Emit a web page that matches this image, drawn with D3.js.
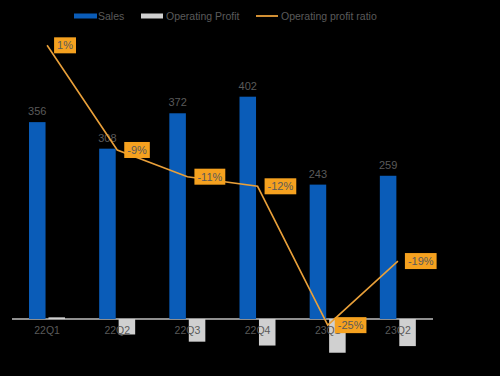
<!DOCTYPE html>
<html>
<head>
<meta charset="utf-8">
<script src="https://cdn.jsdelivr.net/npm/d3@7"></script>
<style>
  html, body { margin: 0; padding: 0; background: #000; }
  svg { display: block; background: #000; }
  text { font-family: "Liberation Sans", Arial, sans-serif; }
</style>
</head>
<body>
<svg id="chart" width="500" height="376"></svg>
<script>
// ---- data ----
const categories = ["22Q1", "22Q2", "22Q3", "22Q4", "23Q1", "23Q2"];
const sales = [356, 308, 372, 402, 243, 259];
const operatingProfit = [3, -28, -41, -48, -61, -49];
const profitRatio = [1.0, -8.8, -11.3, -12.2, -25.2, -19.2];
const seriesNames = ["Sales", "Operating Profit", "Operating profit ratio"];

// ---- styles ----
const BLUE = "#0a5cb8";
const GREY = "#d0d0d0";
const ORANGE = "#f5a11f";
const LINE = "#e9a03a";
const TEXT = "#5a5a5a";

const svg = d3.select("#chart");

const x0 = d3.scaleBand().domain(categories).range([12, 433]).padding(0);
const x1 = d3.scaleBand().domain(["sales", "op"])
  .range([17, 53]).paddingInner(0.15).paddingOuter(0);
const y = d3.scaleLinear().domain([0, 400]).range([319, 97.8]);
const yR = d3.scaleLinear().domain([0, -25]).range([56, 323]);

// axis baseline
svg.append("line")
  .attr("x1", x0.range()[0]).attr("x2", x0.range()[1])
  .attr("y1", y(0)).attr("y2", y(0))
  .attr("stroke", "#bfbfbf").attr("stroke-width", 1.5);

// bars
const g = svg.append("g");
categories.forEach((c, i) => {
  const bx = x0(c);
  g.append("rect")
    .attr("x", bx + x1("sales")).attr("width", x1.bandwidth())
    .attr("y", y(sales[i])).attr("height", y(0) - y(sales[i]))
    .attr("fill", BLUE);
  const op = operatingProfit[i];
  g.append("rect")
    .attr("x", bx + x1("op")).attr("width", x1.bandwidth())
    .attr("y", Math.min(y(op), y(0))).attr("height", Math.max(1, Math.abs(y(0) - y(op))))
    .attr("fill", GREY);
  g.append("text")
    .attr("x", bx + x1("sales") + x1.bandwidth() / 2)
    .attr("y", y(sales[i]) - 7)
    .attr("text-anchor", "middle")
    .attr("font-size", 11).attr("fill", TEXT)
    .text(sales[i]);
});

// category labels
const xAxis = d3.axisBottom(x0).tickSize(0).tickPadding(8);
const ax = svg.append("g").attr("transform", `translate(0,${y(0)})`).call(xAxis);
ax.select(".domain").remove();
ax.selectAll("text").attr("font-size", 10.5).attr("fill", TEXT)
  .attr("font-family", "Liberation Sans, Arial, sans-serif");

// ratio line
const pts = categories.map((c, i) => [x0(c) + x0.bandwidth() / 2, yR(profitRatio[i])]);
svg.append("path")
  .attr("d", d3.line()(pts))
  .attr("fill", "none").attr("stroke", LINE).attr("stroke-width", 1.6);

// ratio labels
const fmt = v => Math.round(v) + "%";
pts.forEach((p, i) => {
  const lg = svg.append("g").attr("transform", `translate(${p[0] + 7},${p[1]})`);
  const t = lg.append("text")
    .attr("x", 3).attr("y", 0).attr("dy", "0.36em")
    .attr("font-size", 11).attr("fill", TEXT)
    .text(fmt(profitRatio[i]));
  const w = t.node().getComputedTextLength();
  lg.insert("rect", "text")
    .attr("x", 0).attr("y", -8).attr("width", w + 6).attr("height", 16)
    .attr("fill", ORANGE);
});

// legend
const leg = svg.append("g").attr("transform", "translate(0,16)");
leg.append("rect").attr("x", 74).attr("y", -2.5).attr("width", 23).attr("height", 5).attr("fill", BLUE);
leg.append("text").attr("x", 98).attr("y", 0).attr("dy", "0.36em")
  .attr("font-size", 10.5).attr("fill", TEXT).text(seriesNames[0]);
leg.append("rect").attr("x", 141).attr("y", -2.5).attr("width", 22).attr("height", 5).attr("fill", GREY);
leg.append("text").attr("x", 166).attr("y", 0).attr("dy", "0.36em")
  .attr("font-size", 10.5).attr("fill", TEXT).text(seriesNames[1]);
leg.append("line").attr("x1", 256).attr("x2", 278).attr("y1", 0).attr("y2", 0)
  .attr("stroke", LINE).attr("stroke-width", 1.8);
leg.append("text").attr("x", 281).attr("y", 0).attr("dy", "0.36em")
  .attr("font-size", 10.5).attr("fill", TEXT).text(seriesNames[2]);
</script>
</body>
</html>
